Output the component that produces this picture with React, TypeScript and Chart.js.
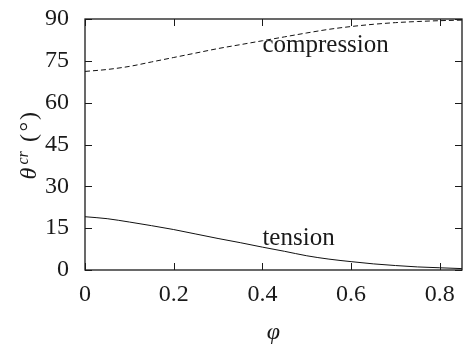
import React, { useEffect, useRef } from 'react';
import { Chart, registerables } from 'chart.js';

Chart.register(...registerables);

// ---- data ----
const phi = [0, 0.05, 0.1, 0.15, 0.2, 0.25, 0.3, 0.35, 0.4, 0.45, 0.5, 0.55, 0.6, 0.65, 0.7, 0.75, 0.8, 0.85];
const compression = [71.2, 71.9, 73.0, 74.6, 76.2, 77.8, 79.4, 80.8, 82.2, 83.6, 85.0, 86.3, 87.3, 88.1, 88.7, 89.1, 89.4, 89.6];
const tension = [19.1, 18.4, 17.2, 15.9, 14.5, 12.9, 11.3, 9.8, 8.2, 6.7, 5.1, 3.9, 3.0, 2.2, 1.6, 1.1, 0.8, 0.5];
const xTicks = [0, 0.2, 0.4, 0.6, 0.8];
const yTicks = [0, 15, 30, 45, 60, 75, 90];
const curveNames = ['compression', 'tension'];
const curveLabelPhi = [0.4, 0.4];
const curveLabelTheta = [78.0, 9.1];

const FONT = "'Liberation Serif', 'Times New Roman', serif";
const INK = '#1a1a1a';

const framePlugin = {
  id: 'frame',
  afterDraw(chart: any) {
    const { ctx, chartArea: a, scales } = chart;
    const xs = scales.x;
    const ys = scales.y;
    ctx.save();
    ctx.strokeStyle = INK;
    ctx.lineWidth = 1.3;
    ctx.strokeRect(a.left, a.top, a.right - a.left, a.bottom - a.top);
    const tl = 7;
    ctx.lineWidth = 1;
    ctx.beginPath();
    xTicks.forEach((v) => {
      const px = Math.round(xs.getPixelForValue(v)) + 0.5;
      ctx.moveTo(px, a.bottom);
      ctx.lineTo(px, a.bottom - tl);
      ctx.moveTo(px, a.top);
      ctx.lineTo(px, a.top + tl);
    });
    yTicks.forEach((v) => {
      const py = Math.round(ys.getPixelForValue(v)) + 0.5;
      ctx.moveTo(a.left, py);
      ctx.lineTo(a.left + tl, py);
      ctx.moveTo(a.right, py);
      ctx.lineTo(a.right - tl, py);
    });
    ctx.stroke();

    ctx.fillStyle = INK;
    ctx.font = `25px ${FONT}`;
    ctx.textAlign = 'left';
    ctx.textBaseline = 'alphabetic';
    curveNames.forEach((name, i) => {
      ctx.fillText(name, xs.getPixelForValue(curveLabelPhi[i]), ys.getPixelForValue(curveLabelTheta[i]));
    });

    ctx.font = `italic 24px ${FONT}`;
    ctx.textAlign = 'center';
    ctx.fillText('φ', (a.left + a.right) / 2, 339);

    // y title, rotated
    ctx.translate(36, (a.top + a.bottom) / 2);
    ctx.rotate(-Math.PI / 2);
    ctx.textAlign = 'left';
    ctx.font = `italic 24px ${FONT}`;
    ctx.fillText('θ', -35, 0);
    ctx.font = `italic 16px ${FONT}`;
    ctx.fillText('cr', -20, -8.5);
    ctx.font = `24px ${FONT}`;
    ctx.fillText('(', 2.5, 0);
    ctx.fillText('°', 13, 0);
    ctx.fillText(')', 24.5, 0);
    ctx.restore();
  },
};

export default function App() {
  const ref = useRef<HTMLCanvasElement | null>(null);
  useEffect(() => {
    document.body.style.margin = '0';
    const canvas = ref.current;
    if (!canvas) return;
    const chart = new Chart(canvas, {
      type: 'line',
      data: {
        datasets: [
          {
            label: 'compression',
            data: phi.map((x, i) => ({ x, y: compression[i] })),
            borderColor: '#111',
            borderWidth: 1,
            borderDash: [5, 3],
            pointRadius: 0,
            cubicInterpolationMode: 'monotone',
            fill: false,
          },
          {
            label: 'tension',
            data: phi.map((x, i) => ({ x, y: tension[i] })),
            borderColor: '#111',
            borderWidth: 1,
            pointRadius: 0,
            cubicInterpolationMode: 'monotone',
            fill: false,
          },
        ],
      },
      options: {
        animation: false,
        responsive: false,
        events: [],
        layout: { padding: { top: 19, right: 2, left: 0, bottom: 0 } },
        plugins: { legend: { display: false }, tooltip: { enabled: false }, title: { display: false } },
        scales: {
          x: {
            type: 'linear',
            min: 0,
            max: 0.85,
            grid: { display: false, drawTicks: false },
            border: { display: false },
            afterBuildTicks: (s: any) => {
              s.ticks = xTicks.map((v) => ({ value: v }));
            },
            afterFit: (s: any) => {
              s.height = 74;
              s.paddingLeft = 0;
              s.paddingRight = 0;
            },
            ticks: {
              autoSkip: false,
              maxRotation: 0,
              padding: 10,
              color: INK,
              font: { family: FONT, size: 24 },
              callback: (v: any) => String(v),
            },
          },
          y: {
            type: 'linear',
            min: 0,
            max: 90,
            grid: { display: false, drawTicks: false },
            border: { display: false },
            afterBuildTicks: (s: any) => {
              s.ticks = yTicks.map((v) => ({ value: v }));
            },
            afterFit: (s: any) => {
              s.width = 85;
              s.paddingTop = 0;
              s.paddingBottom = 0;
            },
            ticks: {
              autoSkip: false,
              padding: 16,
              color: INK,
              font: { family: FONT, size: 24 },
              callback: (v: any) => String(v),
            },
          },
        },
      },
      plugins: [framePlugin],
    } as any);
    return () => chart.destroy();
  }, []);
  return (
    <div style={{ width: 464, height: 344 }}>
      <canvas ref={ref} width={464} height={344} style={{ display: 'block' }} />
    </div>
  );
}
